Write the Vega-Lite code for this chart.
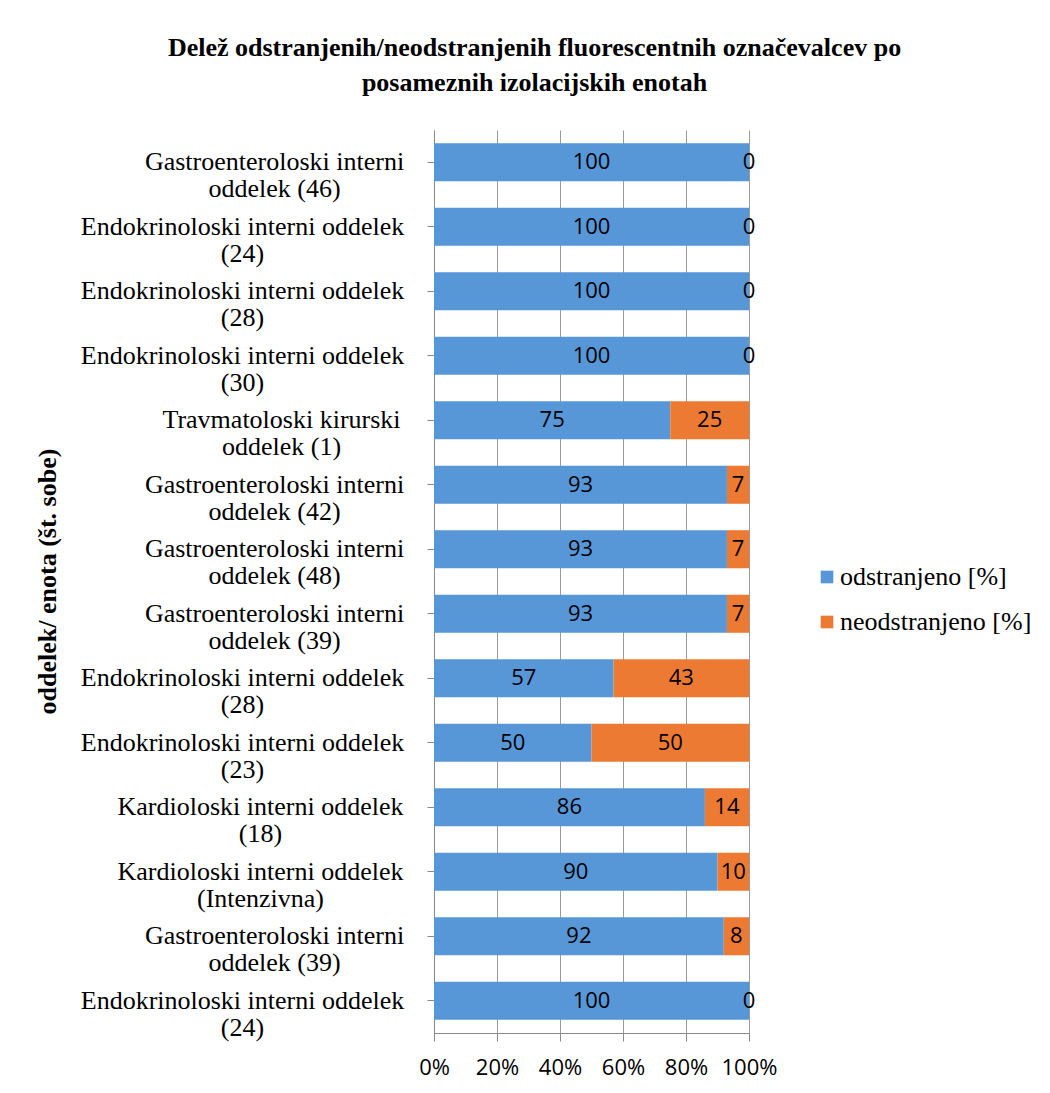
{
  "$schema": "https://vega.github.io/schema/vega-lite/v6.json",
  "autosize": {"type": "none"},
  "padding": {"left": 434, "top": 130, "right": 301, "bottom": 60},
  "width": 315,
  "height": 903,
  "background": "white",
  "title": {
    "text": ["Delež odstranjenih/neodstranjenih fluorescentnih označevalcev po", "posameznih izolacijskih enotah"],
    "font": "Liberation Serif",
    "fontSize": 26,
    "fontWeight": "bold",
    "color": "black",
    "lineHeight": 35,
    "anchor": "middle",
    "frame": "group",
    "dx": -57,
    "offset": 34
  },
  "data": {
    "values": [
      {"unit": "Gastroenteroloski interni oddelek (46) #1", "odstranjeno": 100, "neodstranjeno": 0},
      {"unit": "Endokrinoloski interni oddelek (24) #2", "odstranjeno": 100, "neodstranjeno": 0},
      {"unit": "Endokrinoloski interni oddelek (28) #3", "odstranjeno": 100, "neodstranjeno": 0},
      {"unit": "Endokrinoloski interni oddelek (30) #4", "odstranjeno": 100, "neodstranjeno": 0},
      {"unit": "Travmatoloski kirurski oddelek (1) #5", "odstranjeno": 75, "neodstranjeno": 25},
      {"unit": "Gastroenteroloski interni oddelek (42) #6", "odstranjeno": 93, "neodstranjeno": 7},
      {"unit": "Gastroenteroloski interni oddelek (48) #7", "odstranjeno": 93, "neodstranjeno": 7},
      {"unit": "Gastroenteroloski interni oddelek (39) #8", "odstranjeno": 93, "neodstranjeno": 7},
      {"unit": "Endokrinoloski interni oddelek (28) #9", "odstranjeno": 57, "neodstranjeno": 43},
      {"unit": "Endokrinoloski interni oddelek (23) #10", "odstranjeno": 50, "neodstranjeno": 50},
      {"unit": "Kardioloski interni oddelek (18) #11", "odstranjeno": 86, "neodstranjeno": 14},
      {"unit": "Kardioloski interni oddelek (Intenzivna) #12", "odstranjeno": 90, "neodstranjeno": 10},
      {"unit": "Gastroenteroloski interni oddelek (39) #13", "odstranjeno": 92, "neodstranjeno": 8},
      {"unit": "Endokrinoloski interni oddelek (24) #14", "odstranjeno": 100, "neodstranjeno": 0}
    ]
  },
  "transform": [
    {"fold": ["odstranjeno", "neodstranjeno"], "as": ["serija", "delez"]},
    {"stack": "delez", "groupby": ["unit"], "sort": [{"field": "serija", "order": "descending"}], "as": ["s0", "s1"]}
  ],
  "layer": [
    {
      "mark": {"type": "bar"},
      "encoding": {
        "y": {
          "field": "unit",
          "type": "nominal",
          "sort": null,
          "scale": {"paddingInner": 0.41, "paddingOuter": 0.205},
          "axis": {
            "title": "oddelek/ enota (št. sobe)",
            "titleFont": "Liberation Serif",
            "titleFontSize": 26,
            "titleFontWeight": "bold",
            "titleColor": "black",
            "titleX": -374,
            "titleY": 451,
            "labelExpr": "(indexof(datum.value,'Gastro')===0 || indexof(datum.value,'Travm')===0) ? [join(slice(split(split(datum.value,' #')[0],' '),0,2),' '), join(slice(split(split(datum.value,' #')[0],' '),2),' ')] : [join(slice(split(split(datum.value,' #')[0],' '),0,3),' '), join(slice(split(split(datum.value,' #')[0],' '),3),' ')]",
            "labelFont": "Liberation Serif",
            "labelFontSize": 26,
            "labelColor": "black",
            "labelAlign": "center",
            "labelBaseline": "middle",
            "labelLineHeight": 27,
            "labelLimit": 0,
            "labelPadding": {
              "condition": [
                {"test": "indexof(datum.value,'Endokrin')===0", "value": 185},
                {"test": "indexof(datum.value,'Travm')===0", "value": 146},
                {"test": "indexof(datum.value,'Kardio')===0", "value": 167}
              ],
              "value": 153
            },
            "tickSize": 7,
            "tickColor": "#888888",
            "domainColor": "#888888",
            "grid": false
          }
        },
        "x": {
          "field": "s1",
          "type": "quantitative",
          "scale": {"domain": [0, 100], "nice": false},
          "axis": {
            "title": null,
            "values": [0, 20, 40, 60, 80, 100],
            "labelExpr": "datum.value + '%'",
            "labelFont": "Open Sans",
            "labelFontSize": 22,
            "labelColor": "black",
            "labelPadding": 16,
            "labelOverlap": false,
            "labelFlush": false,
            "tickSize": 8,
            "tickColor": "#888888",
            "domainColor": "#888888",
            "grid": true,
            "gridColor": "#9a9a9a"
          }
        },
        "x2": {"field": "s0"},
        "color": {
          "field": "serija",
          "type": "nominal",
          "scale": {"domain": ["odstranjeno", "neodstranjeno"], "range": ["#5797d8", "#ec7a33"]},
          "legend": {
            "title": null,
            "orient": "none",
            "legendX": 380,
            "legendY": 434,
            "symbolType": "square",
            "symbolSize": 160,
            "symbolStrokeWidth": 0,
            "labelExpr": "datum.label + ' [%]'",
            "labelFont": "Liberation Serif",
            "labelFontSize": 26,
            "labelColor": "black",
            "labelOffset": 0,
            "labelLimit": 0,
            "rowPadding": 19
          }
        }
      }
    },
    {
      "transform": [{"fold": ["s0", "s1"], "as": ["rob", "pos"]}],
      "mark": {"type": "text", "font": "Open Sans", "fontSize": 22, "color": "black", "baseline": "middle", "align": "center"},
      "encoding": {
        "y": {"field": "unit", "type": "nominal", "sort": null},
        "x": {"field": "pos", "type": "quantitative", "aggregate": "mean"},
        "detail": {"field": "serija", "type": "nominal"},
        "text": {"field": "delez", "type": "quantitative", "aggregate": "max"}
      }
    }
  ],
  "config": {
    "view": {"stroke": null},
    "legend": {"labelFont": "Liberation Serif"}
  }
}
